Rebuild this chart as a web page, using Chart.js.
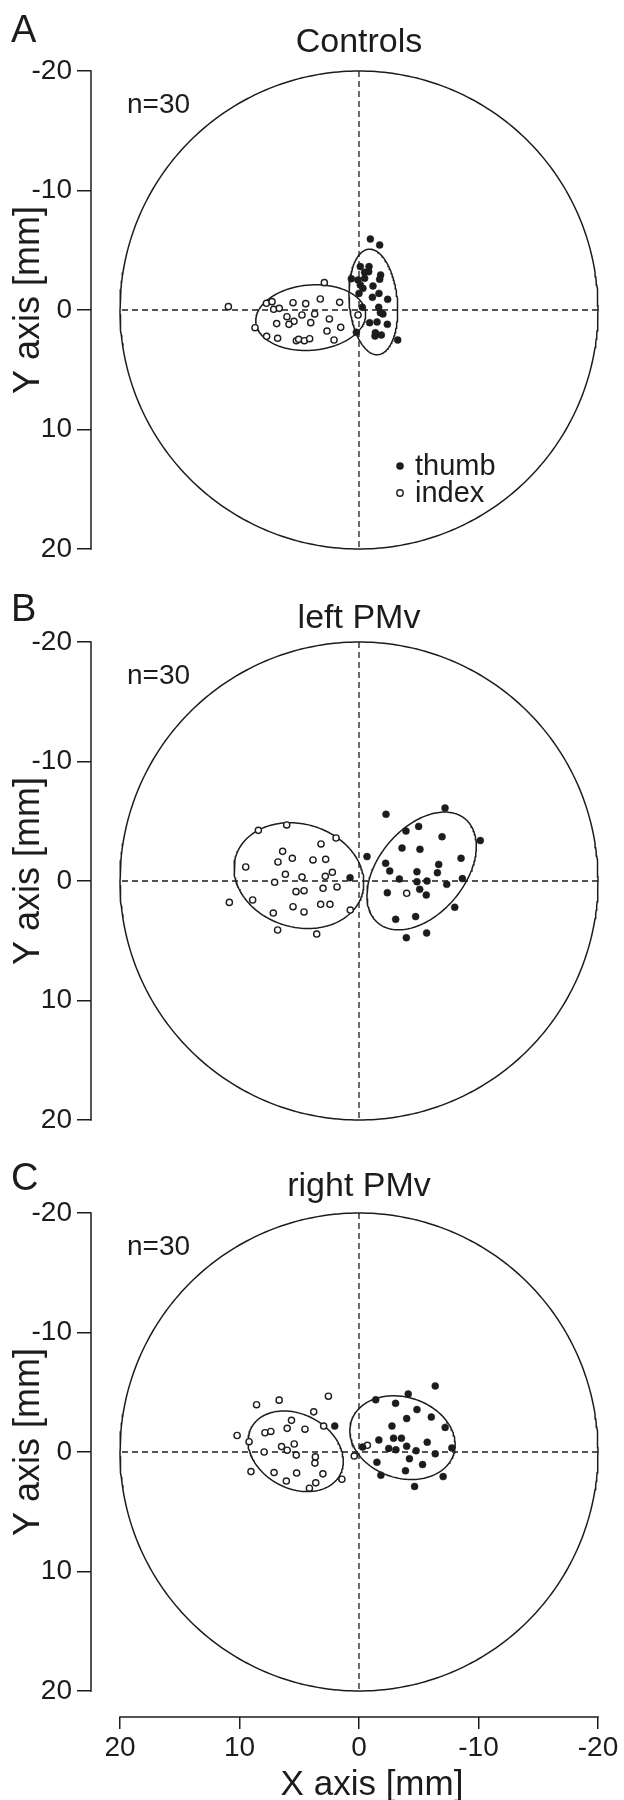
<!DOCTYPE html>
<html lang="en">
<head>
<meta charset="UTF-8">
<title>Thumb and index end positions</title>
<script src="https://cdn.jsdelivr.net/npm/chart.js"></script>
<style>
  body { margin: 0; background: #fff; }
  #wrap { position: relative; width: 624px; height: 1800px; }
  #wrap canvas { position: absolute; left: 0; top: 0; }
</style>
</head>
<body>
<div id="wrap">
  <canvas id="panelA" width="624" height="1800"></canvas>
  <canvas id="panelB" width="624" height="1800"></canvas>
  <canvas id="panelC" width="624" height="1800"></canvas>
</div>
<script>
// axes (mm); x runs from +20 on the left to -20 on the right, y from -20 at the top
const limit = 20;
const xTicks = [20, 10, 0, -10, -20];
const yTicks = [-20, -10, 0, 10, 20];
const xTitle = 'X axis [mm]';
const yTitle = 'Y axis [mm]';
const seriesNames = ['thumb', 'index'];
const nLabel = 'n=30';

// A: Controls
const thumbA = [[-0.95,-5.94],[-1.73,-5.44],[-0.11,-3.63],[-0.84,-3.63],[-0.81,-3.21],[-1.81,-2.93],[-1.73,-2.57],[0.64,-2.62],
  [0.08,-2.51],[-0.47,-2.65],[-0.11,-2.09],[-0.33,-1.81],[-1.17,-2.01],[0.0,-1.39],[-1.12,-1.06],[-1.67,-1.39],[-2.40,-0.89],
  [-0.28,-0.22],[-1.65,-0.22],[-1.79,0.22],[-0.89,1.06],[-1.51,1.00],[-2.37,1.20],[0.22,1.87],[-1.37,1.90],[-1.87,2.09],
  [-1.34,2.18],[-3.24,2.51],[-0.47,-3.15],[-2.0,0.33]];
const indexA = [[10.93,-0.28],[2.90,-2.29],[7.75,-0.56],[7.28,-0.70],[7.14,-0.06],[6.67,-0.14],[5.52,-0.61],[4.46,-0.53],
  [3.24,-0.92],[1.62,-0.64],[4.77,0.42],[3.71,0.33],[6.03,0.56],[5.44,0.95],[5.86,1.20],[6.89,1.14],[4.04,1.06],[2.48,0.75],
  [0.08,0.42],[8.70,1.48],[7.73,2.20],[6.81,2.37],[5.24,2.57],[5.05,2.45],[4.57,2.57],[4.13,2.40],[2.68,1.76],[1.53,1.45],[2.09,2.51]];
// ellipses: centre x, centre y, semi-axis a, semi-axis b, angle (deg)
const thumbEllA = [-1.2, -0.67, 4.43, 2.01, 95];
const indexEllA = [4.04, 0.64, 4.61, 2.73, 5];

// B: left PMv
const thumbB = [[-2.26,-5.58],[-7.20,-6.11],[-3.93,-4.18],[-4.99,-4.57],[-6.95,-3.71],[-10.15,-3.38],[-3.60,-2.76],[-5.10,-2.65],
  [-0.67,-2.04],[-8.54,-1.90],[-2.23,-1.48],[-2.57,-0.84],[-6.67,-1.39],[-6.56,-0.70],[-4.85,-0.78],[0.75,-0.28],[-3.38,-0.17],
  [-4.85,0.06],[-5.69,0.0],[-7.34,0.28],[-8.65,-0.20],[-2.37,0.98],[-5.08,0.70],[-5.63,1.17],[-8.01,2.20],[-3.07,3.21],
  [-4.74,2.98],[-5.66,4.35],[-3.96,4.74]];
const indexB = [[8.42,-4.24],[6.05,-4.69],[1.92,-3.60],[3.18,-3.10],[6.39,-2.48],[6.78,-1.59],[5.58,-1.90],[3.85,-1.76],
  [2.79,-1.81],[9.48,-1.17],[6.16,-0.56],[4.77,-0.33],[2.82,-0.39],[2.23,-0.73],[7.06,0.11],[3.01,0.61],[1.84,0.50],[5.27,0.89],
  [4.60,0.81],[10.85,1.79],[8.90,1.59],[5.52,2.15],[3.21,1.95],[2.43,1.95],[7.17,2.68],[4.60,2.59],[0.73,2.43],[6.81,4.10],
  [3.54,4.44],[-3.99,1.03]];
const thumbEllB = [-5.24, -0.84, 5.68, 3.60, 50];
const indexEllB = [5.03, -0.45, 5.52, 4.31, -17];

// C: right PMv
const thumbC = [[-6.38,-5.53],[-4.12,-4.86],[-1.40,-4.37],[-3.06,-4.07],[-4.85,-3.55],[-3.99,-2.80],[-6.05,-2.92],[2.03,-2.17],
  [-2.76,-2.17],[-7.21,-2.06],[-1.66,-1.01],[-2.89,-1.16],[-3.55,-1.16],[-5.71,-0.82],[-2.49,-0.30],[-3.09,-0.19],[-3.99,-0.49],
  [-4.78,-0.11],[-7.77,-0.34],[-6.38,0.15],[-0.30,-0.41],[-4.22,0.56],[-1.50,0.86],[-5.32,1.05],[-3.89,1.57],[-1.83,1.94],
  [-7.04,2.06],[-4.65,2.88]];
const indexC = [[2.56,-4.67],[8.57,-3.96],[6.68,-4.34],[3.79,-3.36],[5.65,-2.65],[2.96,-2.17],[4.52,-1.91],[10.20,-1.38],
  [7.87,-1.61],[7.38,-1.72],[6.01,-1.98],[9.20,-0.86],[6.48,-0.45],[5.42,-0.67],[6.01,-0.15],[7.94,0.0],[5.25,0.26],[3.65,0.41],
  [3.69,0.93],[0.40,0.34],[-0.70,-0.56],[9.04,1.64],[7.11,1.72],[5.22,1.76],[3.02,1.83],[6.08,2.43],[3.62,2.58],[1.43,2.28],[4.15,3.03]];
const thumbEllC = [-3.64, -1.20, 4.50, 3.38, -18];
const indexEllC = [5.30, -0.06, 4.2, 3.1, -28];

// ---- drawing ----
const INK = '#1c1c1c';
const FONT = '"Liberation Sans", Arial, Helvetica, sans-serif';
const PX_PER_MM = 11.95;

const panels = [
  { id: 'panelA', letter: 'A', title: 'Controls', top: 71, letterBase: 42, titleBase: 52, thumb: thumbA, index: indexA,
    thumbEll: thumbEllA, indexEll: indexEllA, legend: true },
  { id: 'panelB', letter: 'B', title: 'left PMv', top: 642, letterBase: 621, titleBase: 628, thumb: thumbB, index: indexB,
    thumbEll: thumbEllB, indexEll: indexEllB },
  { id: 'panelC', letter: 'C', title: 'right PMv', top: 1213, letterBase: 1190, titleBase: 1196, thumb: thumbC, index: indexC,
    thumbEll: thumbEllC, indexEll: indexEllC, xAxis: true }
];

function ellipsePoints(e, n = 180) {
  const [cx, cy, a, b, deg] = e;
  const r = deg * Math.PI / 180;
  const pts = [];
  for (let i = 0; i <= n; i++) {
    const t = 2 * Math.PI * i / n;
    pts.push({
      x: cx + a * Math.cos(t) * Math.cos(r) - b * Math.sin(t) * Math.sin(r),
      y: cy + a * Math.cos(t) * Math.sin(r) + b * Math.sin(t) * Math.cos(r)
    });
  }
  return pts;
}
const toXY = arr => arr.map(([x, y]) => ({ x, y }));

function lineSet(data, extra) {
  return Object.assign({ type: 'scatter', data, showLine: true, pointRadius: 0, borderColor: INK,
    borderWidth: 1.5, fill: false, clip: false, tension: 0 }, extra);
}

const decor = p => ({
  id: 'decor',
  afterDraw(chart) {
    const { ctx, chartArea: ca, scales: { x, y } } = chart;
    ctx.save();
    ctx.strokeStyle = INK;
    ctx.lineWidth = 1.5;
    ctx.beginPath();
    ctx.moveTo(ca.left, y.getPixelForValue(-limit) - 0.75);
    ctx.lineTo(ca.left, y.getPixelForValue(limit) + 0.75);
    if (p.xAxis) {
      ctx.moveTo(x.getPixelForValue(limit) - 0.75, ca.bottom);
      ctx.lineTo(x.getPixelForValue(-limit) + 0.75, ca.bottom);
    }
    ctx.stroke();

    ctx.fillStyle = INK;
    ctx.textBaseline = 'alphabetic';
    ctx.font = `38px ${FONT}`;
    ctx.textAlign = 'left';
    ctx.fillText(p.letter, 11, p.letterBase);
    ctx.font = `34px ${FONT}`;
    ctx.textAlign = 'center';
    ctx.fillText(p.title, x.getPixelForValue(0), p.titleBase);

    ctx.font = `28px ${FONT}`;
    ctx.textAlign = 'left';
    ctx.fillText(nLabel, 127, y.getPixelForValue(-limit) + 42);

    if (p.legend) {
      const lx = 400, ly = y.getPixelForValue(0) + 156;
      ctx.beginPath();
      ctx.arc(lx, ly, 3.8, 0, 2 * Math.PI);
      ctx.fill();
      ctx.beginPath();
      ctx.arc(lx, ly + 27, 3.2, 0, 2 * Math.PI);
      ctx.fillStyle = '#fff';
      ctx.fill();
      ctx.lineWidth = 1.4;
      ctx.stroke();
      ctx.fillStyle = INK;
      ctx.font = `29px ${FONT}`;
      ctx.fillText(seriesNames[0], lx + 15, ly + 9);
      ctx.fillText(seriesNames[1], lx + 15, ly + 36);
    }

    ctx.save();
    ctx.translate(29, y.getPixelForValue(0) - 10);
    ctx.rotate(-Math.PI / 2);
    ctx.font = `36px ${FONT}`;
    ctx.textAlign = 'center';
    ctx.textBaseline = 'middle';
    ctx.fillText(yTitle, 0, 0);
    ctx.restore();

    if (p.xAxis) {
      ctx.font = `35px ${FONT}`;
      ctx.textAlign = 'center';
      ctx.fillText(xTitle, x.getPixelForValue(0) + 13, 1795);
    }
    ctx.restore();
  }
});

function makePanel(p) {
  const rightPad = 14;
  const xMax = limit + 29 / PX_PER_MM;                 // gap between y axis and +20
  const xMin = -limit - (624 - rightPad - (120 + 2 * limit * PX_PER_MM)) / PX_PER_MM;
  const yMax = p.xAxis ? limit + 26 / PX_PER_MM : limit;
  const plotBottom = p.top + 2 * limit * PX_PER_MM;

  new Chart(document.getElementById(p.id), {
    type: 'scatter',
    data: {
      datasets: [
        { label: seriesNames[0], data: toXY(p.thumb), pointRadius: 3.5, backgroundColor: INK, borderColor: INK,
          borderWidth: 0.5, clip: false },
        { label: seriesNames[1], data: toXY(p.index), pointRadius: 3.1, backgroundColor: '#fff', borderColor: INK,
          borderWidth: 1.4, clip: false },
        lineSet(ellipsePoints(p.thumbEll)),
        lineSet(ellipsePoints(p.indexEll)),
        lineSet([{ x: -limit, y: 0 }, { x: limit, y: 0 }], { borderDash: [6, 4], borderWidth: 1.3 }),
        lineSet([{ x: 0, y: -limit }, { x: 0, y: limit }], { borderDash: [6, 4], borderWidth: 1.3 }),
        lineSet(ellipsePoints([0, 0, limit, limit, 0], 360))
      ]
    },
    options: {
      responsive: false,
      animation: false,
      devicePixelRatio: 1,
      events: [],
      layout: { padding: { left: 0, right: rightPad, top: p.top, bottom: p.xAxis ? 0 : 1800 - plotBottom } },
      plugins: { legend: { display: false }, tooltip: { enabled: false }, title: { display: false } },
      scales: {
        x: {
          type: 'linear', reverse: true, min: xMin, max: xMax, display: !!p.xAxis,
          afterBuildTicks: s => { s.ticks = xTicks.map(v => ({ value: v })); },
          afterFit: s => { s.height = p.xAxis ? 83 : 0; },
          border: { display: false },
          grid: { drawOnChartArea: false, drawTicks: true, tickLength: 12, color: INK, lineWidth: 1.5 },
          ticks: { color: INK, font: { family: FONT, size: 28 }, padding: 2, maxRotation: 0, callback: v => String(v) }
        },
        y: {
          type: 'linear', reverse: true, min: -limit, max: yMax,
          afterBuildTicks: s => { s.ticks = yTicks.map(v => ({ value: v })); },
          afterFit: s => { s.width = 91; },
          border: { display: false },
          grid: { drawOnChartArea: false, drawTicks: true, tickLength: 14, color: INK, lineWidth: 1.5 },
          ticks: { color: INK, font: { family: FONT, size: 28 }, padding: 5, callback: v => String(v) }
        }
      }
    },
    plugins: [decor(p)]
  });
}

panels.forEach(makePanel);
</script>
</body>
</html>
